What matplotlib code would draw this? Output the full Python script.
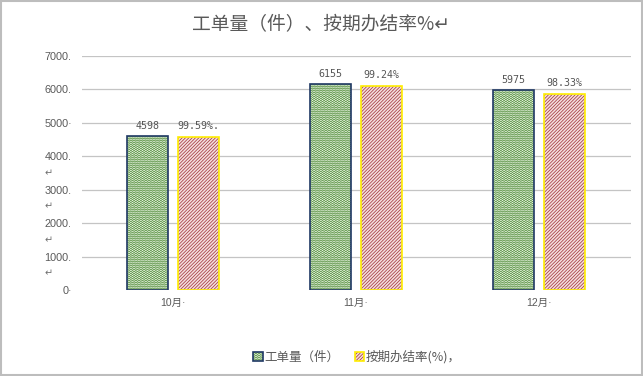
import warnings
warnings.filterwarnings("ignore")
import numpy as np
import matplotlib
matplotlib.use("Agg")
import matplotlib.pyplot as plt
import matplotlib.hatch as mhatch
from matplotlib.path import Path
from matplotlib.patches import Rectangle

# ---------------- data ----------------
categories = ["10月·", "11月·", "12月·"]
work_orders = [4598, 6155, 5975]
rate_bar_heights = [4579, 6108, 5875]
count_labels = ["4598", "6155", "5975"]
rate_labels = ["99.59%.", "99.24%", "98.33%"]
yticks = [0, 1000, 2000, 3000, 4000, 5000, 6000, 7000]
ytick_labels = ["0·", "1000.", "2000.", "3000.", "4000.", "5000·", "6000.", "7000."]
title = "工单量（件）、按期办结率%↵"
series_names = ["工单量（件）", "按期办结率(%)，"]

# ---------------- custom wave hatch ----------------
_Base = getattr(mhatch, "HatchPatternBase", object)


class WaveHatch(_Base):
    cycles = 30
    per_cycle = 8

    def __init__(self, hatch, density):
        self.num_rows = int(hatch.count("~") * density)
        self.pts = self.cycles * self.per_cycle + 1
        self.num_vertices = self.num_rows * self.pts

    def set_vertices_and_codes(self, vertices, codes):
        xs = np.linspace(0.0, 1.0, self.pts)
        wave = 0.0068 * np.sin(2 * np.pi * self.cycles * xs)
        for i in range(self.num_rows):
            y0 = (i + 0.5) / self.num_rows
            sl = slice(i * self.pts, (i + 1) * self.pts)
            vertices[sl, 0] = xs
            vertices[sl, 1] = y0 + wave
            codes[sl] = Path.LINETO
            codes[i * self.pts] = Path.MOVETO


mhatch._hatch_types.append(WaveHatch)

plt.rcParams["font.family"] = ["Noto Sans CJK SC", "DejaVu Sans"]
plt.rcParams["hatch.linewidth"] = 0.55
tick_family = ["Liberation Sans", "Noto Sans CJK SC"]

fig = plt.figure(figsize=(6.43, 3.76), dpi=100)
ax = fig.add_axes([81.5 / 643, 1 - 290 / 376, 549 / 643, 234 / 376])

x = np.arange(len(categories))
w = 0.226
off = 0.141

g_fill = ax.bar(x - off, work_orders, w, color="#E8F5E1", edgecolor="#5C9347",
                hatch="~" * 8, linewidth=0, zorder=2)
g_edge = ax.bar(x - off, work_orders, w, fill=False, edgecolor="#1F3864",
                linewidth=1.2, zorder=3)
r_fill = ax.bar(x + off, rate_bar_heights, w, color="#F5DEDE", edgecolor="#A33A42",
                hatch="/" * 10, linewidth=0, zorder=2)
r_edge = ax.bar(x + off, rate_bar_heights, w, fill=False, edgecolor="#FFEE00",
                linewidth=1.2, zorder=3)

ax.bar_label(g_edge, labels=count_labels, padding=4, fontsize=7.2,
             family=["DejaVu Sans Mono"], color="#555555")
ax.bar_label(r_edge, labels=rate_labels, padding=4, fontsize=7.2,
             family=["DejaVu Sans Mono"], color="#555555")

ax.set_xlim(-0.5, 2.5)
ax.set_ylim(0, 7000)
ax.set_xticks(x)
ax.set_xticklabels(categories, fontsize=7.5, color="#595959", family=tick_family)
ax.set_yticks(yticks)
ax.set_yticklabels(ytick_labels, fontsize=7.8, color="#595959", family=tick_family)
ax.tick_params(axis="both", length=0)
ax.tick_params(axis="x", pad=6)
ax.tick_params(axis="y", pad=7)
for s in ax.spines.values():
    s.set_visible(False)
ax.yaxis.grid(True, color="#C4C4C4", linewidth=0.9, zorder=0)
ax.set_axisbelow(True)
ax.yaxis.get_gridlines()[0].set_visible(False)

# paragraph return marks between lower ticks
for lo, hi in zip(yticks[:4], yticks[1:5]):
    ax.text(-0.068, (lo + hi) / 2, "↵", transform=ax.get_yaxis_transform(),
            fontsize=7, color="#707070", ha="left", va="center",
            family=["DejaVu Sans"])

fig.text(321 / 643, 1 - 25 / 376, title, ha="center", va="center",
         fontsize=13.5, color="#595959")

leg = fig.legend([(g_fill, g_edge), (r_fill, r_edge)], series_names,
                 loc="center", bbox_to_anchor=(357 / 643, 1 - 357 / 376),
                 ncol=2, frameon=False, fontsize=9, handlelength=0.75,
                 handleheight=0.75, handletextpad=0.15, columnspacing=1.2,
                 labelcolor="#595959")

fig.patches.append(Rectangle((0.0015, 0.002), 0.997, 0.996, transform=fig.transFigure,
                             fill=False, edgecolor="#BDBDBD", linewidth=1.5))

fig.savefig("out.png", dpi=100)
